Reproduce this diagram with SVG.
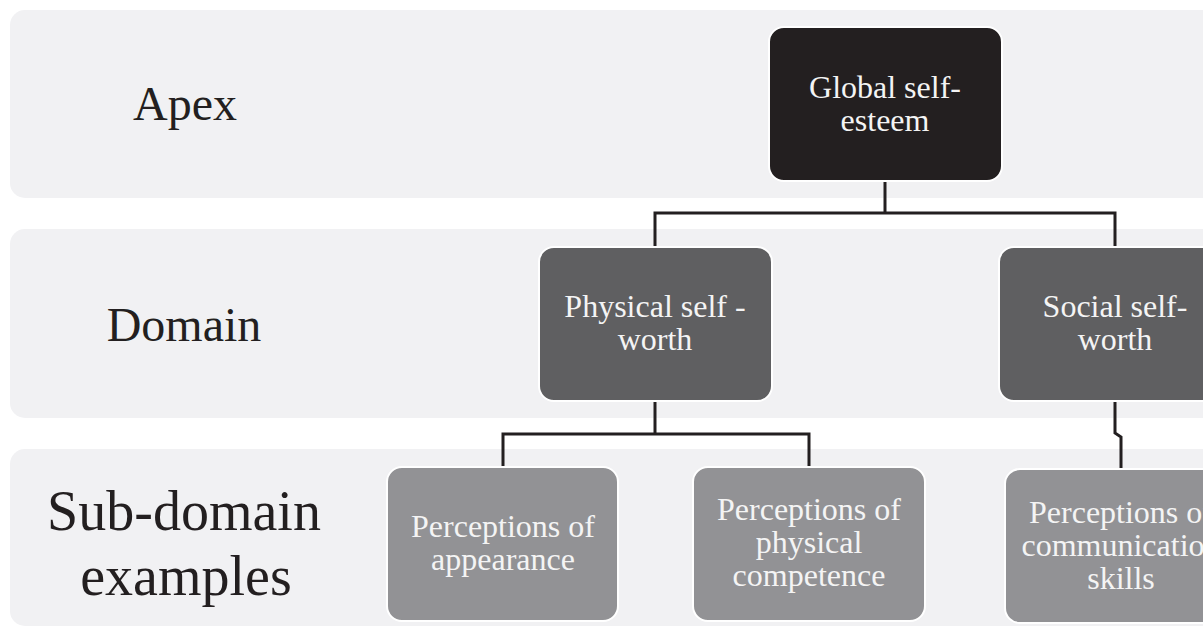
<svg xmlns="http://www.w3.org/2000/svg" width="1203" height="629" viewBox="0 0 1203 629">
  <style>
    .band { fill: #f1f1f3; }
    .lvl { font-family: "Liberation Serif", "Times New Roman", serif; fill: #231f20; text-anchor: middle; }
    .box { stroke: #ffffff; stroke-width: 2; }
    .apex { fill: #231f20; }
    .dom { fill: #5f5f61; }
    .sub { fill: #929295; }
    .t { font-family: "Liberation Serif", "Times New Roman", serif; font-size: 32px; fill: #f4f4f4; text-anchor: middle; }
    .wire { fill: none; stroke: #231f20; stroke-width: 3; }
  </style>
  <rect width="1203" height="629" fill="#ffffff"/>

  <!-- level bands -->
  <g id="bands">
    <rect class="band" x="10" y="10" width="1220" height="188" rx="15"/>
    <rect class="band" x="10" y="229" width="1220" height="189" rx="15"/>
    <rect class="band" x="10" y="449" width="1220" height="177" rx="15"/>
  </g>

  <!-- level labels -->
  <g id="labels">
    <text class="lvl" x="185" y="120" font-size="48">Apex</text>
    <text class="lvl" x="184" y="341" font-size="48">Domain</text>
    <text class="lvl" x="184" y="530" font-size="56">Sub-domain</text>
    <text class="lvl" x="186" y="595" font-size="56">examples</text>
  </g>

  <!-- connectors -->
  <g id="connectors">
    <polyline class="wire" points="885,181 885,213"/>
    <polyline class="wire" points="655,247 655,213 1115,213 1115,247"/>
    <polyline class="wire" points="655,401 655,434"/>
    <polyline class="wire" points="503,467 503,434 809,434 809,467"/>
    <polyline class="wire" points="1115,401 1115,433 1121,437 1121,469"/>
  </g>

  <g id="global">
    <rect class="box apex" x="769" y="27" width="233" height="154" rx="15"/>
    <text class="t" x="885" y="98">Global self-</text>
    <text class="t" x="885" y="131">esteem</text>
  </g>

  <g id="physical">
    <rect class="box dom" x="539" y="247" width="233" height="154" rx="15"/>
    <text class="t" x="655" y="317">Physical self -</text>
    <text class="t" x="655" y="350">worth</text>
  </g>

  <g id="social">
    <rect class="box dom" x="999" y="247" width="233" height="154" rx="15"/>
    <text class="t" x="1115" y="317">Social self-</text>
    <text class="t" x="1115" y="350">worth</text>
  </g>

  <g id="appearance">
    <rect class="box sub" x="387" y="467" width="231" height="154" rx="15"/>
    <text class="t" x="503" y="537">Perceptions of</text>
    <text class="t" x="503" y="570">appearance</text>
  </g>

  <g id="competence">
    <rect class="box sub" x="693" y="467" width="232" height="154" rx="15"/>
    <text class="t" x="809" y="520">Perceptions of</text>
    <text class="t" x="809" y="553">physical</text>
    <text class="t" x="809" y="586">competence</text>
  </g>

  <g id="communication">
    <rect class="box sub" x="1005" y="469" width="233" height="154" rx="15"/>
    <text class="t" x="1121" y="523">Perceptions of</text>
    <text class="t" x="1121" y="556">communication</text>
    <text class="t" x="1121" y="589">skills</text>
  </g>
</svg>
